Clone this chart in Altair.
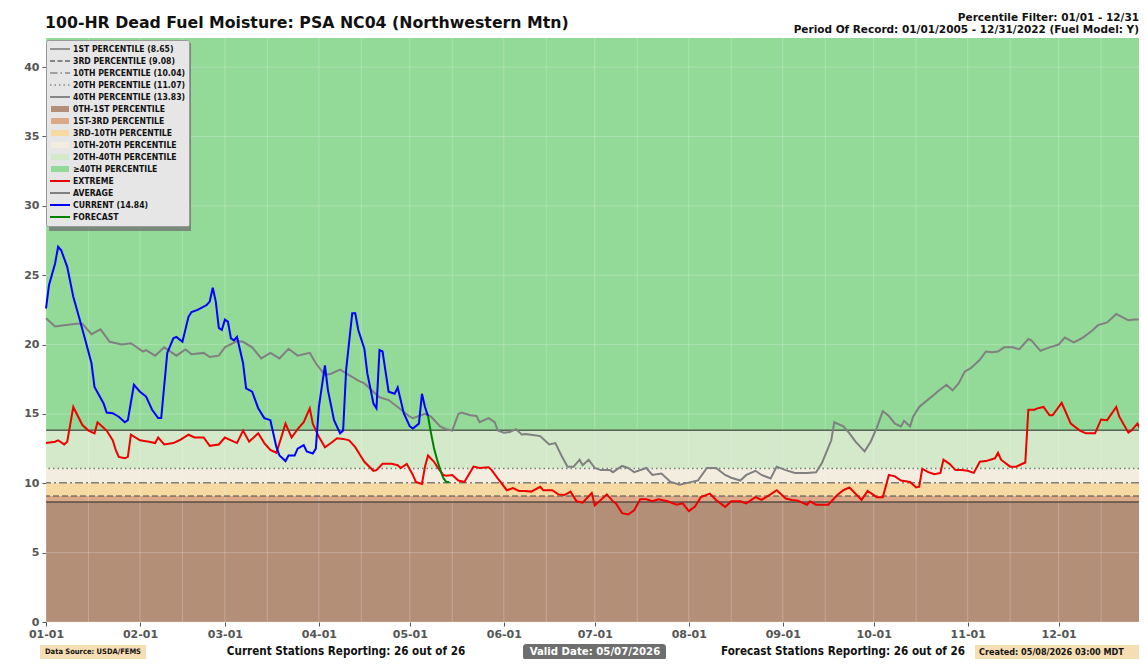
import altair as alt
import pandas as pd

# ---------------- data ----------------
# day offsets from 01-01 and 100-hr fuel moisture values
avg_day = [0, 3, 6, 10, 12, 15, 18, 21, 25, 28,
           32, 33, 36, 39, 43, 46, 48, 52, 54, 57,
           59, 63, 65, 68, 71, 74, 77, 80, 83, 87,
           89, 92, 94, 97, 100, 103, 105, 108, 110, 113,
           116, 120, 121, 125, 127, 130, 132, 134, 136, 137,
           140, 142, 143, 146, 148, 149, 151, 153, 155, 157,
           158, 160, 163, 165, 166, 168, 170, 172, 174, 176,
           177, 179, 181, 183, 186, 187, 190, 192, 194, 198,
           200, 203, 206, 209, 213, 215, 218, 221, 224, 226,
           229, 231, 234, 236, 239, 241, 244, 247, 251, 254,
           256, 259, 260, 263, 265, 267, 270, 272, 274, 276,
           278, 280, 282, 283, 285, 286, 288, 291, 293, 294,
           297, 299, 301, 303, 305, 308, 310, 312, 314, 316,
           319, 321, 324, 325, 328, 331, 334, 336, 339, 342,
           345, 347, 350, 353, 357, 359, 364]
avg_val = [21.9, 21.3, 21.4, 21.5, 21.5, 20.75, 21.1, 20.2, 20.0, 20.1,
           19.5, 19.6, 19.2, 19.8, 19.2, 19.65, 19.3, 19.4, 19.1, 19.2,
           19.8, 20.25, 20.2, 19.8, 19.0, 19.4, 19.0, 19.7, 19.2, 19.4,
           18.65, 17.8, 17.9, 18.2, 17.8, 17.4, 17.2, 16.6, 16.2, 16.0,
           15.5, 14.8, 14.7, 15.0, 14.8, 14.1, 13.9, 13.8, 15.0, 15.1,
           14.9, 14.85, 14.4, 14.7, 14.4, 13.8, 13.65, 13.7, 13.9, 13.5,
           13.55, 13.5, 13.4, 13.0, 12.8, 12.9, 12.0, 11.2, 11.2, 11.7,
           11.3, 11.7, 11.1, 10.95, 10.95, 10.8, 11.25, 11.1, 10.8, 11.1,
           10.6, 10.7, 10.1, 9.9, 10.1, 10.2, 11.1, 11.1, 10.6, 10.4,
           10.2, 10.6, 10.9, 10.6, 10.35, 11.2, 10.95, 10.75, 10.75, 10.8,
           11.5, 13.1, 14.4, 14.1, 13.6, 13.0, 12.3, 13.0, 14.0, 15.2,
           14.85, 14.3, 14.1, 14.5, 14.1, 14.8, 15.5, 16.05, 16.4, 16.6,
           17.1, 16.7, 17.2, 18.05, 18.3, 18.9, 19.5, 19.45, 19.5, 19.8,
           19.8, 19.65, 20.4, 20.3, 19.55, 19.8, 20.0, 20.5, 20.15, 20.5,
           21.0, 21.4, 21.6, 22.2, 21.75, 21.8, 21.8]

ext_day = [0, 3, 4, 6, 7, 9, 12, 14, 16, 17,
           20, 22, 23, 24, 26, 27, 28, 31, 34, 36,
           37, 39, 42, 44, 47, 49, 52, 54, 57, 59,
           63, 65, 67, 70, 72, 74, 76, 79, 81, 83,
           85, 87, 88, 90, 92, 94, 96, 98, 100, 102,
           104, 105, 108, 109, 111, 113, 114, 116, 117, 119,
           121, 122, 124, 125, 126, 128, 129, 131, 132, 134,
           136, 138, 141, 143, 146, 147, 149, 152, 154, 156,
           158, 160, 163, 164, 167, 169, 171, 173, 175, 177,
           180, 181, 185, 187, 188, 190, 192, 194, 196, 198,
           200, 202, 205, 208, 210, 212, 214, 216, 219, 221,
           224, 226, 229, 231, 234, 236, 239, 241, 244, 246,
           248, 251, 252, 254, 258, 261, 263, 265, 269, 271,
           274, 276, 278, 280, 282, 285, 287, 288, 289, 291,
           293, 295, 296, 298, 300, 302, 304, 306, 308, 310,
           313, 314, 315, 318, 320, 321, 323, 324, 326, 327,
           329, 331, 332, 335, 336, 338, 341, 343, 346, 348,
           350, 353, 354, 357, 358, 360, 362, 364]
ext_val = [12.9, 13.0, 13.1, 12.8, 13.0, 15.5, 14.2, 13.8, 13.6, 14.4,
           13.8, 13.1, 12.4, 11.9, 11.8, 11.9, 13.5, 13.1, 13.0, 12.9,
           13.3, 12.8, 12.9, 13.1, 13.5, 13.3, 13.3, 12.7, 12.8, 13.3,
           12.9, 13.8, 13.0, 13.6, 12.9, 12.4, 12.2, 14.3, 13.3, 13.9,
           14.4, 15.4, 14.3, 13.35, 12.6, 12.9, 13.25, 13.2, 13.1, 12.6,
           11.9, 11.55, 10.9, 10.95, 11.4, 11.4, 11.4, 11.3, 11.1, 11.4,
           10.6, 10.1, 9.95, 11.2, 12.0, 11.55, 11.2, 10.6, 10.55, 10.6,
           10.2, 10.1, 11.2, 11.1, 11.15, 10.95, 10.35, 9.5, 9.65, 9.45,
           9.45, 9.4, 9.75, 9.5, 9.5, 9.2, 9.15, 9.4, 8.7, 8.6,
           9.3, 8.4, 9.2, 8.7, 8.55, 7.85, 7.75, 8.05, 8.85, 8.85,
           8.7, 8.85, 8.7, 8.45, 8.55, 8.0, 8.3, 9.0, 9.25, 8.8,
           8.3, 8.7, 8.7, 8.55, 9.0, 8.8, 9.2, 9.5, 8.9, 8.8,
           8.75, 8.45, 8.7, 8.45, 8.45, 9.15, 9.5, 9.7, 8.8, 9.45,
           9.0, 9.0, 10.6, 10.5, 10.2, 10.1, 9.7, 9.75, 11.05, 10.8,
           10.65, 10.75, 11.7, 11.4, 10.95, 10.95, 10.9, 10.75, 11.55, 11.6,
           11.8, 12.2, 11.7, 11.2, 11.2, 11.3, 11.5, 15.3, 15.3, 15.4,
           15.5, 14.9, 14.9, 15.8, 15.3, 14.3, 13.8, 13.6, 13.6, 14.6,
           14.55, 15.5, 14.8, 13.65, 13.8, 14.3, 13.35, 12.8]

cur_day = [0, 1, 3, 4, 5, 7, 9, 11, 13, 15,
           16, 19, 20, 22, 24, 26, 27, 29, 31, 33,
           35, 37, 38, 40, 42, 43, 45, 47, 48, 50,
           53, 54, 55, 56, 57, 58, 59, 60, 61, 62,
           63, 65, 66, 68, 70, 72, 74, 76, 77, 79,
           80, 82, 83, 85, 86, 88, 89, 90, 92, 93,
           95, 97, 98, 99, 101, 102, 103, 105, 106, 108,
           109, 110, 111, 113, 115, 116, 118, 120, 121, 123,
           124, 125, 126]
cur_val = [22.6, 24.3, 25.85, 27.05, 26.8, 25.6, 23.45, 21.9, 20.3, 18.65,
           16.95, 15.75, 15.1, 15.05, 14.8, 14.4, 14.55, 17.1, 16.6, 16.25,
           15.3, 14.7, 14.7, 19.4, 20.45, 20.55, 20.2, 22.0, 22.35, 22.5,
           22.85, 23.1, 24.1, 23.1, 21.2, 21.05, 21.8, 21.65, 20.45, 20.3,
           20.55, 18.65, 16.85, 16.6, 15.4, 14.7, 14.55, 12.6, 12.0, 11.6,
           12.0, 12.0, 12.5, 12.75, 12.3, 12.15, 12.5, 15.5, 18.5, 16.7,
           14.55, 13.6, 13.8, 18.2, 22.25, 22.25, 21.05, 19.7, 17.9, 15.75,
           15.4, 19.6, 19.5, 16.6, 16.45, 16.9, 15.05, 14.1, 13.95, 14.3,
           16.45, 15.5, 14.84]

fc_day = [126, 127, 128, 129, 130, 131, 132, 133]
fc_val = [14.84, 13.6, 12.5, 11.7, 11.0, 10.4, 10.1, 10.1]

pct_names = ["1ST PERCENTILE (8.65)", "3RD PERCENTILE (9.08)", "10TH PERCENTILE (10.04)",
             "20TH PERCENTILE (11.07)", "40TH PERCENTILE (13.83)"]
pct_values = [8.65, 9.08, 10.04, 11.07, 13.83]

band_names = ["0TH-1ST PERCENTILE", "1ST-3RD PERCENTILE", "3RD-10TH PERCENTILE",
              "10TH-20TH PERCENTILE", "20TH-40TH PERCENTILE", "\u226540TH PERCENTILE"]
Y_MAX = 42.1
band_lo = [0, 8.65, 9.08, 10.04, 11.07, 13.83]
band_hi = [8.65, 9.08, 10.04, 11.07, 13.83, Y_MAX]

series_names = ["EXTREME", "AVERAGE", "CURRENT (14.84)", "FORECAST"]

title_text = "100-HR Dead Fuel Moisture: PSA NC04 (Northwestern Mtn)"
header_lines = ["Percentile Filter: 01/01 - 12/31",
                "Period Of Record: 01/01/2005 - 12/31/2022 (Fuel Model: Y)"]
footer_texts = ["Data Source: USDA/FEMS", "Current Stations Reporting: 26 out of 26",
                "Valid Date: 05/07/2026", "Forecast Stations Reporting: 26 out of 26",
                "Created: 05/08/2026 03:00 MDT"]

# ---------------- styling ----------------
band_colors = ["#b38f78", "#dba987", "#f6daa2", "#f3ede0", "#d3e9c9", "#93da98"]
pct_colors = ["#333333", "#555555", "#555555", "#555555", "#333333"]
pct_dash = [[1, 0], [6, 3], [8, 3, 2, 3], [1.5, 3], [1, 0]]
series_colors = ["#ee0000", "#808080", "#0000ff", "#008000"]

PLOT_W = 1093
PLOT_H = 584
FONT = "DejaVu Sans"
COND = "DejaVu Sans Condensed, Liberation Sans Narrow, DejaVu Sans"

base = pd.Timestamp("2026-01-01")


def frame(days, vals):
    return pd.DataFrame({"date": [base + pd.Timedelta(days=int(d)) for d in days], "v": vals})


x_scale = alt.Scale(domain=[alt.DateTime(year=2026, month=1, date=1),
                            alt.DateTime(year=2026, month=12, date=27, hours=12)])
y_scale = alt.Scale(domain=[0, Y_MAX], nice=False, zero=False)

x_axis = alt.Axis(values=[alt.DateTime(year=2026, month=m, date=1) for m in range(1, 13)],
                  format="%m-%d", labelFont=FONT, labelFontWeight="bold", labelFontSize=11,
                  labelColor="#555555", tickColor="#555555", tickSize=4, domain=False,
                  grid=False, title=None, labelPadding=2, labelFlush=False, labelOverlap=False)
y_axis = alt.Axis(values=list(range(0, 41, 5)), labelFont=FONT, labelFontWeight="bold",
                  labelFontSize=11, labelColor="#555555", tickColor="#555555", tickSize=4,
                  domain=False, grid=False, title=None, labelPadding=3)


def X(field="date"):
    return alt.X(f"{field}:T", scale=x_scale, axis=x_axis)


def Y(field="v"):
    return alt.Y(f"{field}:Q", scale=y_scale, axis=y_axis)


def text_df(t):
    return pd.DataFrame({"t": [t]})


layers = []

# percentile bands
bands_df = pd.DataFrame({"lo": band_lo, "hi": band_hi, "fill": band_colors})
layers.append(alt.Chart(bands_df).mark_rect().encode(
    x=alt.value(0), x2=alt.value("width"), y=Y("lo"), y2="hi:Q",
    fill=alt.Fill("fill:N", scale=None)))

# grid lines (1st and 15th of each month; every 5 units)
grid_dates = list(pd.date_range("2026-01-01", "2026-12-31", freq="MS")) + \
    [d + pd.Timedelta(days=14) for d in pd.date_range("2026-01-01", "2026-12-31", freq="MS")]
vgrid_df = pd.DataFrame({"date": sorted(grid_dates)})
layers.append(alt.Chart(vgrid_df).mark_rule(color="white", opacity=0.22, strokeWidth=1).encode(x=X()))
hgrid_df = pd.DataFrame({"v": list(range(0, 41, 5))})
layers.append(alt.Chart(hgrid_df).mark_rule(color="white", opacity=0.22, strokeWidth=1).encode(y=Y()))

# percentile lines
for val, col, dash in zip(pct_values, pct_colors, pct_dash):
    layers.append(alt.Chart(pd.DataFrame({"v": [val]})).mark_rule(
        color=col, opacity=0.75, strokeWidth=1.5, strokeDash=dash).encode(y=Y()))

# series lines
for (days, vals), col in zip([(ext_day, ext_val), (avg_day, avg_val), (cur_day, cur_val), (fc_day, fc_val)],
                             series_colors):
    layers.append(alt.Chart(frame(days, vals)).mark_line(color=col, strokeWidth=2).encode(x=X(), y=Y()))

# drop shadow behind the legend box
layers.append(alt.Chart(pd.DataFrame({"a": [0]})).mark_rect(color="#6f6f6f", opacity=0.75).encode(
    x=alt.value(3), x2=alt.value(145), y=alt.value(5), y2=alt.value(193)))

# legend: a clipped (invisible) point layer that only drives the legend
SOLID = "M-1,-0.075H1V0.075H-1Z"
DASHED = "M-1,-0.075H-0.5V0.075H-1Z M-0.25,-0.075H0.25V0.075H-0.25Z M0.5,-0.075H1V0.075H0.5Z"
DASHDOT = "M-1,-0.075H-0.25V0.075H-1Z M0.05,-0.075H0.2V0.075H0.05Z M0.5,-0.075H1V0.075H0.5Z"
DOTTED = ("M-1,-0.075H-0.85V0.075H-1Z M-0.55,-0.075H-0.4V0.075H-0.55Z M-0.1,-0.075H0.05V0.075H-0.1Z "
          "M0.35,-0.075H0.5V0.075H0.35Z M0.8,-0.075H0.95V0.075H0.8Z")
PATCH = "M-0.9,-0.3H0.9V0.3H-0.9Z"
LINE2 = "M-1,-0.1H1V0.1H-1Z"
leg_labels = pct_names + band_names + series_names
leg_colors = ["#777777", "#666666", "#888888", "#888888", "#666666"] + band_colors + series_colors
leg_shapes = [SOLID, DASHED, DASHDOT, DOTTED, SOLID] + [PATCH] * 6 + [LINE2] * 4
leg_df = pd.DataFrame({"label": leg_labels, "v": [-10] * len(leg_labels)})
legend = alt.Legend(title=None, orient="none", legendX=0, legendY=2, padding=3,
                    fillColor="#e6e6e6", strokeColor="#9a9a9a", cornerRadius=2,
                    symbolSize=400, symbolStrokeWidth=0, symbolOffset=1, clipHeight=11.8,
                    labelFont=COND, labelFontWeight="bold", labelFontSize=8.6, labelColor="#111111",
                    labelOffset=3, labelLimit=300, rowPadding=0)
layers.append(alt.Chart(leg_df).mark_point(filled=True, clip=True, strokeWidth=0, opacity=1).encode(
    x=alt.value(10), y=Y(),
    color=alt.Color("label:N", scale=alt.Scale(domain=leg_labels, range=leg_colors), legend=legend),
    shape=alt.Shape("label:N", scale=alt.Scale(domain=leg_labels, range=leg_shapes), legend=legend)))

# title and header text
layers.append(alt.Chart(text_df(title_text)).mark_text(
    align="left", baseline="middle", font=FONT, fontWeight="bold", fontSize=15.75, color="#111111").encode(
    text="t:N", x=alt.value(-1), y=alt.value(-15)))
for i, t in enumerate(header_lines):
    layers.append(alt.Chart(text_df(t)).mark_text(
        align="right", baseline="middle", font=FONT, fontWeight="bold", fontSize=10.5, color="#111111").encode(
        text="t:N", x=alt.value(PLOT_W), y=alt.value(-20 + 12 * i)))

# footer boxes and texts
foot_y = PLOT_H + 30
box_specs = [(-6, 100, "#f5deb3", 0, 7), (477, 620, "#6e6e6e", 3, 8), (929, PLOT_W, "#f5deb3", 0, 7)]
for x0, x1, col, r, hh in box_specs:
    layers.append(alt.Chart(pd.DataFrame({"a": [0]})).mark_rect(color=col, cornerRadius=r).encode(
        x=alt.value(x0), x2=alt.value(x1), y=alt.value(foot_y - hh), y2=alt.value(foot_y + hh)))

foot_x = [47, 300, 549, 797, 933]
foot_align = ["center", "center", "center", "center", "left"]
foot_size = [7.5, 11.6, 11.3, 11.6, 9]
foot_color = ["#111111", "#111111", "#ffffff", "#111111", "#111111"]
for t, fx, fa, fs, fc in zip(footer_texts, foot_x, foot_align, foot_size, foot_color):
    layers.append(alt.Chart(text_df(t)).mark_text(
        align=fa, baseline="middle", font=COND, fontWeight="bold", fontSize=fs, color=fc).encode(
        text="t:N", x=alt.value(fx), y=alt.value(foot_y)))

chart = alt.layer(*layers).properties(
    width=PLOT_W, height=PLOT_H,
    padding={"left": 38, "top": 30, "right": 0, "bottom": 37},
    autosize=alt.AutoSizeParams(type="none"),
    background="white",
).configure_view(stroke=None)

chart.save("out.html", embed_options={"renderer": "svg", "actions": False})
